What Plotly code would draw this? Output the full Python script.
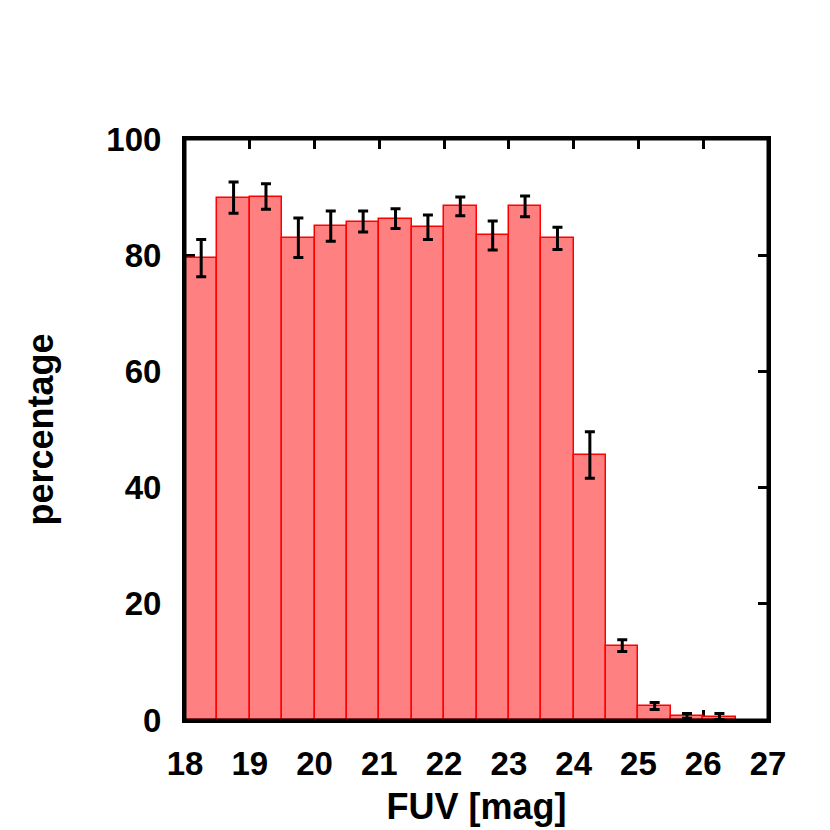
import plotly.graph_objects as go

# FUV magnitude bins (centres, 0.5 mag wide)
fuv_bins = [18.25, 18.75, 19.25, 19.75, 20.25, 20.75, 21.25, 21.75, 22.25,
            22.75, 23.25, 23.75, 24.25, 24.75, 25.25, 25.75, 26.25]
percentage = [79.5, 89.9, 90.1, 83.0, 85.0, 85.8, 86.3, 84.8, 88.4,
              83.4, 88.4, 82.9, 45.6, 12.8, 2.4, 0.7, 0.6]
error = [3.2, 2.7, 2.2, 3.4, 2.6, 1.8, 1.7, 2.1, 1.6,
         2.5, 1.8, 1.9, 4.0, 1.0, 0.6, 0.4, 0.5]
bin_width = 0.5

x_ticks = list(range(18, 28))
y_ticks = [0, 20, 40, 60, 80, 100]

FONT = "Liberation Sans"

fig = go.Figure()
fig.add_trace(go.Bar(
    x=fuv_bins,
    y=percentage,
    width=[bin_width] * len(fuv_bins),
    marker=dict(color="#ff8080", line=dict(color="#ff0000", width=1.5)),
    error_y=dict(type="data", array=error, visible=True,
                 color="black", thickness=3, width=5),
    showlegend=False,
))

axis_common = dict(
    showline=True, linecolor="black", linewidth=3, mirror="ticks",
    ticks="inside", ticklen=10, tickwidth=3, tickcolor="black",
    showgrid=False, zeroline=False, layer="below traces",
    tickfont=dict(family=FONT, size=33, color="black", weight="bold"),
)

fig.update_layout(
    width=830, height=830,
    margin=dict(l=177, r=70, t=131, b=118),
    paper_bgcolor="white", plot_bgcolor="white",
    bargap=0,
    xaxis=dict(range=[18, 27], tickvals=x_ticks, ticklabelstandoff=12,
               title=dict(text="<b>FUV [mag]</b>", standoff=14,
                          font=dict(family=FONT, size=36, color="black")),
               **axis_common),
    yaxis=dict(range=[0, 100], tickvals=y_ticks, ticklabelstandoff=14,
               title=dict(text="<b>percentage</b>", standoff=42,
                          font=dict(family=FONT, size=36, color="black")),
               **axis_common),
    shapes=[dict(type="rect", xref="paper", yref="paper", x0=0, x1=1, y0=0, y1=1,
                 line=dict(color="black", width=3), layer="above")],
)

fig.write_html("out.html")
